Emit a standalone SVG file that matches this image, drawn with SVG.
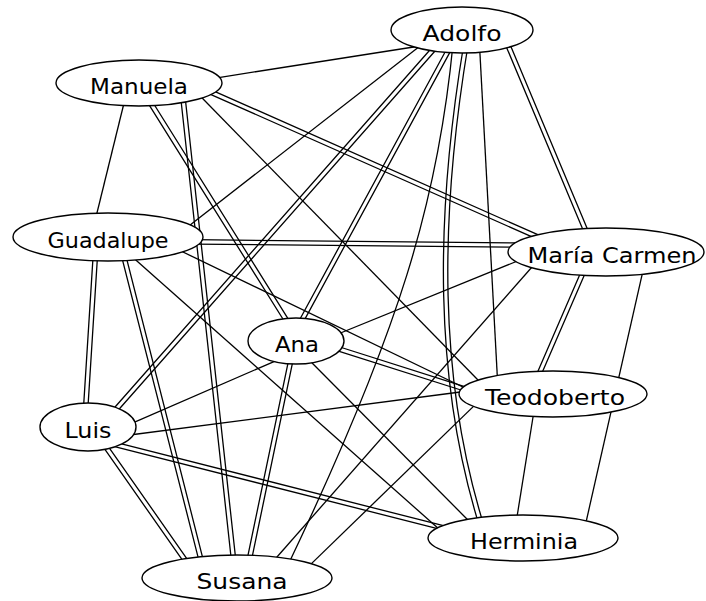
<svg xmlns="http://www.w3.org/2000/svg" width="706" height="601" viewBox="0 0 706 601">
<style>
.e{fill:none;stroke:#000;stroke-width:1.3}
.n ellipse{fill:#fff;stroke:#000;stroke-width:1.4}
.n text{font-family:"DejaVu Sans",sans-serif;font-size:22px;text-anchor:middle;fill:#000}
</style>
<rect width="706" height="601" fill="#fff"/>
<g id="edges" class="e">
<path d="M504.9,43.4L586.1,237.3M508.9,41.7L590.1,235.6"/>
<path d="M463.8,44C434.8,218 433.8,380 479.8,527.5M468.2,44C439.2,218 438.2,380 484.2,526.5"/>
<path d="M435.6,43.5L111.1,411.5M439,46.5L114.4,414.5"/>
<path d="M448.9,45L297.3,324M452.7,47.1L301.1,326.1"/>
<path d="M204.8,91.8L539.4,240.2M206.6,87.8L541.2,236.2"/>
<path d="M146.9,101.4L287.3,326M150.7,99L291.1,323.6"/>
<path d="M180.9,99.2L231.7,563.2M185.3,98.8L236.1,562.8"/>
<path d="M194,244.1L518,247.3M194,239.7L518,242.9"/>
<path d="M93.3,252.9L83.3,410.9M97.7,253.1L87.7,411.1"/>
<path d="M120.9,253.7L199.9,564.3M125.1,252.7L204.1,563.3"/>
<path d="M333.7,349.7L471.9,393.5M335.1,345.5L473.3,389.3"/>
<path d="M289.5,355.8L246.3,563.4M293.8,356.7L250.6,564.3"/>
<path d="M108.7,445.1L447.3,531.1M109.8,440.9L448.3,526.9"/>
<path d="M101.6,444.7L185.8,564.9M105.2,442.1L189.4,562.3"/>
<path d="M583.2,266.8L534.8,378.4M587.2,268.6L538.8,380.2"/>
<path d="M214,78.3L420,46"/>
<path d="M421.3,45.1L183.7,229.9"/>
<path d="M479.5,45L497.5,380"/>
<path d="M453,44C438,200 400,330 288,565"/>
<path d="M125,99L95,221"/>
<path d="M201.4,97.3L483.6,385.7"/>
<path d="M177.8,249.5L472.2,391.5"/>
<path d="M335.6,335L522.4,259"/>
<path d="M280.3,358.8L127.7,425.2"/>
<path d="M307.4,358.3L472.6,524.7"/>
<path d="M122,436L468,391"/>
<path d="M534.3,409L515.7,525"/>
<path d="M643.8,267.2L585.2,525.8"/>
<path d="M271.7,563L537.3,261"/>
<path d="M306.3,568.6L480.7,399.4"/>
<path d="M131,255.7L446,535.3"/>
</g>
<g id="node-adolfo" class="n"><ellipse cx="462" cy="30" rx="71" ry="23"/><text x="462" y="41" textLength="79" lengthAdjust="spacingAndGlyphs">Adolfo</text></g>
<g id="node-manuela" class="n"><ellipse cx="139" cy="83" rx="83" ry="23"/><text x="139" y="93.5" textLength="98" lengthAdjust="spacingAndGlyphs">Manuela</text></g>
<g id="node-guadalupe" class="n"><ellipse cx="108" cy="237" rx="95" ry="24"/><text x="108" y="247.5" textLength="121" lengthAdjust="spacingAndGlyphs">Guadalupe</text></g>
<g id="node-maria-carmen" class="n"><ellipse cx="606" cy="252" rx="98" ry="24"/><text x="612" y="262.5" textLength="169" lengthAdjust="spacingAndGlyphs">María Carmen</text></g>
<g id="node-ana" class="n"><ellipse cx="296" cy="341" rx="48" ry="23"/><text x="297" y="351.5" textLength="44" lengthAdjust="spacingAndGlyphs">Ana</text></g>
<g id="node-teodoberto" class="n"><ellipse cx="553" cy="394" rx="94" ry="23"/><text x="555" y="404.5" textLength="140" lengthAdjust="spacingAndGlyphs">Teodoberto</text></g>
<g id="node-luis" class="n"><ellipse cx="88" cy="427" rx="48" ry="24"/><text x="88" y="437.5" textLength="47" lengthAdjust="spacingAndGlyphs">Luis</text></g>
<g id="node-herminia" class="n"><ellipse cx="523" cy="538" rx="95" ry="23"/><text x="524" y="548.5" textLength="108" lengthAdjust="spacingAndGlyphs">Herminia</text></g>
<g id="node-susana" class="n"><ellipse cx="237" cy="578" rx="95" ry="23"/><text x="242" y="588.5" textLength="91" lengthAdjust="spacingAndGlyphs">Susana</text></g>
</svg>
